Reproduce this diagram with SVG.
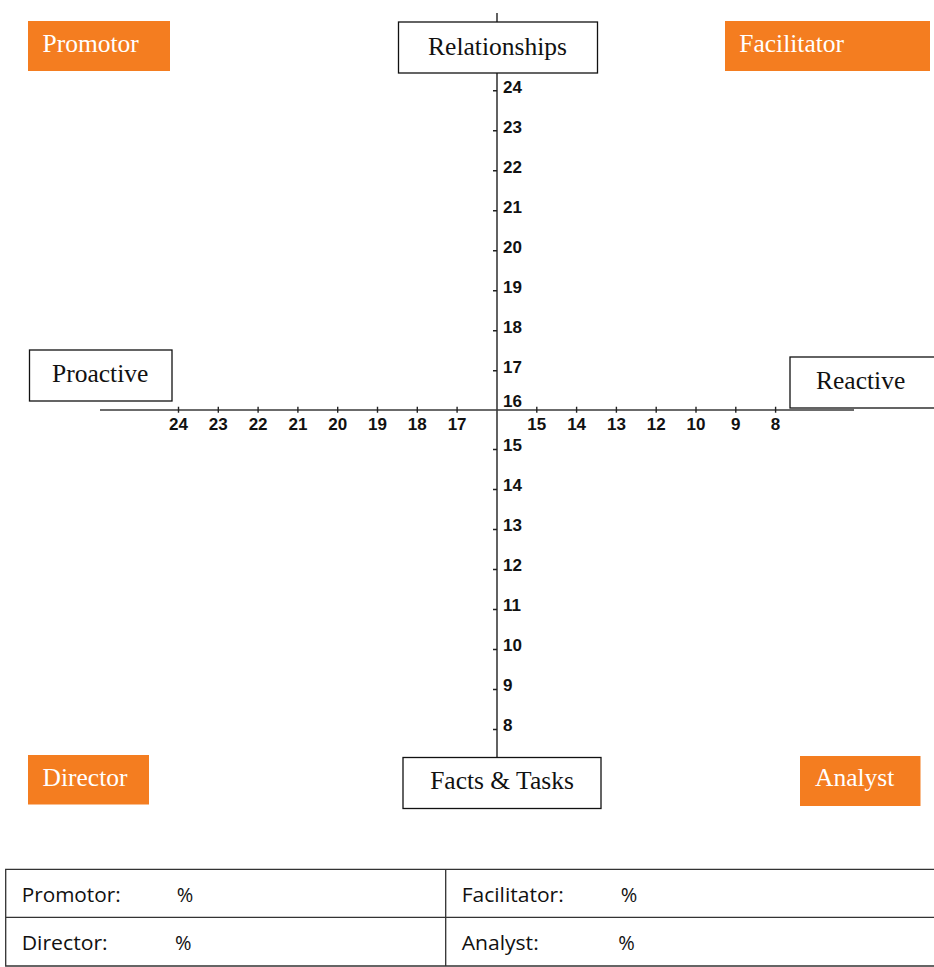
<svg xmlns="http://www.w3.org/2000/svg" width="934" height="967" viewBox="0 0 934 967">
<style>
.axis{stroke:#3a3a3a;stroke-width:1.6;fill:none}
.tick{stroke:#222;stroke-width:1.4}
.num{font-family:"Liberation Sans",Arial,sans-serif;font-weight:bold;font-size:17px;fill:#111}
.numh{font-family:"Liberation Sans",Arial,sans-serif;font-weight:bold;font-size:17px;fill:#111;text-anchor:middle}
.box{fill:#fff;stroke:#111;stroke-width:1.3}
.obox{fill:#F47D20;stroke:none}
.lbl{font-family:"Liberation Serif","Times New Roman",serif;font-size:25.5px;fill:#111}
.olbl{font-family:"Liberation Serif","Times New Roman",serif;font-size:25.5px;fill:#fff}
.tbl{fill:none;stroke:#333;stroke-width:1.3}
.tt{font-family:"Open Sans","Noto Sans",sans-serif;font-size:20px;fill:#111}
</style>
<rect width="934" height="967" fill="#fff"/>
<g id="connectors">
  <line class="axis" x1="497" y1="13" x2="497" y2="757"/>
  <line class="axis" x1="100" y1="410" x2="854" y2="410"/>
</g>
<g id="vticks">
  <path class="tick" d="M493 90.7H497M493 130.7H497M493 170.7H497M493 210.7H497M493 250.7H497M493 290.7H497M493 330.7H497M493 370.7H497M493 449.5H497M493 489.5H497M493 529.5H497M493 569.5H497M493 609.5H497M493 649.5H497M493 689.5H497M493 729.5H497"/>
  <text class="num" x="503" y="92.5">24</text>
  <text class="num" x="503" y="132.5">23</text>
  <text class="num" x="503" y="172.5">22</text>
  <text class="num" x="503" y="212.5">21</text>
  <text class="num" x="503" y="252.5">20</text>
  <text class="num" x="503" y="292.5">19</text>
  <text class="num" x="503" y="332.5">18</text>
  <text class="num" x="503" y="372.5">17</text>
  <text class="num" x="503" y="406.5">16</text>
  <text class="num" x="503" y="451">15</text>
  <text class="num" x="503" y="491">14</text>
  <text class="num" x="503" y="531">13</text>
  <text class="num" x="503" y="571">12</text>
  <text class="num" x="503" y="611">11</text>
  <text class="num" x="503" y="651">10</text>
  <text class="num" x="503" y="691">9</text>
  <text class="num" x="503" y="731">8</text>
</g>
<g id="hticks">
  <path class="tick" d="M178.5 406.7V412.7M218.3 406.7V412.7M258.1 406.7V412.7M297.9 406.7V412.7M337.7 406.7V412.7M377.5 406.7V412.7M417.3 406.7V412.7M457.1 406.7V412.7M536.8 406.7V412.7M576.6 406.7V412.7M616.4 406.7V412.7M656.2 406.7V412.7M696 406.7V412.7M735.8 406.7V412.7M775.6 406.7V412.7"/>
  <text class="numh" x="178.5" y="430">24</text>
  <text class="numh" x="218.3" y="430">23</text>
  <text class="numh" x="258.1" y="430">22</text>
  <text class="numh" x="297.9" y="430">21</text>
  <text class="numh" x="337.7" y="430">20</text>
  <text class="numh" x="377.5" y="430">19</text>
  <text class="numh" x="417.3" y="430">18</text>
  <text class="numh" x="457.1" y="430">17</text>
  <text class="numh" x="536.8" y="430">15</text>
  <text class="numh" x="576.6" y="430">14</text>
  <text class="numh" x="616.4" y="430">13</text>
  <text class="numh" x="656.2" y="430">12</text>
  <text class="numh" x="696" y="430">10</text>
  <text class="numh" x="735.8" y="430">9</text>
  <text class="numh" x="775.6" y="430">8</text>
</g>
<g id="relationships">
  <rect class="box" x="398.5" y="22" width="199" height="51"/>
  <text class="lbl" x="497.5" y="54.5" text-anchor="middle">Relationships</text>
</g>
<g id="facts-tasks">
  <rect class="box" x="403" y="757.5" width="198" height="51"/>
  <text class="lbl" x="502" y="789" text-anchor="middle">Facts &amp; Tasks</text>
</g>
<g id="proactive">
  <rect class="box" x="29.5" y="350" width="142.5" height="51"/>
  <text class="lbl" x="52" y="381.5">Proactive</text>
</g>
<g id="reactive">
  <rect class="box" x="790" y="357" width="160" height="51"/>
  <text class="lbl" x="816" y="388.5">Reactive</text>
</g>
<g id="promotor">
  <rect class="obox" x="28" y="21" width="142" height="50"/>
  <text class="olbl" x="42.5" y="51.7">Promotor</text>
</g>
<g id="facilitator">
  <rect class="obox" x="725" y="21" width="205" height="50"/>
  <text class="olbl" x="739.3" y="51.7">Facilitator</text>
</g>
<g id="director">
  <rect class="obox" x="28" y="755" width="121" height="49.5"/>
  <text class="olbl" x="42.5" y="785.7">Director</text>
</g>
<g id="analyst">
  <rect class="obox" x="800" y="756" width="120.5" height="50"/>
  <text class="olbl" x="815" y="786">Analyst</text>
</g>
<g id="table">
  <path class="tbl" d="M940 869.3H5.7V966H940M5.7 917.3H940M445.7 869.3V966"/>
  <text class="tt" x="21.7" y="901.7" textLength="99" lengthAdjust="spacingAndGlyphs">Promotor:</text>
  <text class="tt" x="176.7" y="901.7">%</text>
  <text class="tt" x="461.7" y="901.7" textLength="102" lengthAdjust="spacingAndGlyphs">Facilitator:</text>
  <text class="tt" x="620.7" y="901.7">%</text>
  <text class="tt" x="21.7" y="950" textLength="86" lengthAdjust="spacingAndGlyphs">Director:</text>
  <text class="tt" x="175" y="950">%</text>
  <text class="tt" x="461.7" y="950" textLength="77" lengthAdjust="spacingAndGlyphs">Analyst:</text>
  <text class="tt" x="618.3" y="950">%</text>
</g>
</svg>
